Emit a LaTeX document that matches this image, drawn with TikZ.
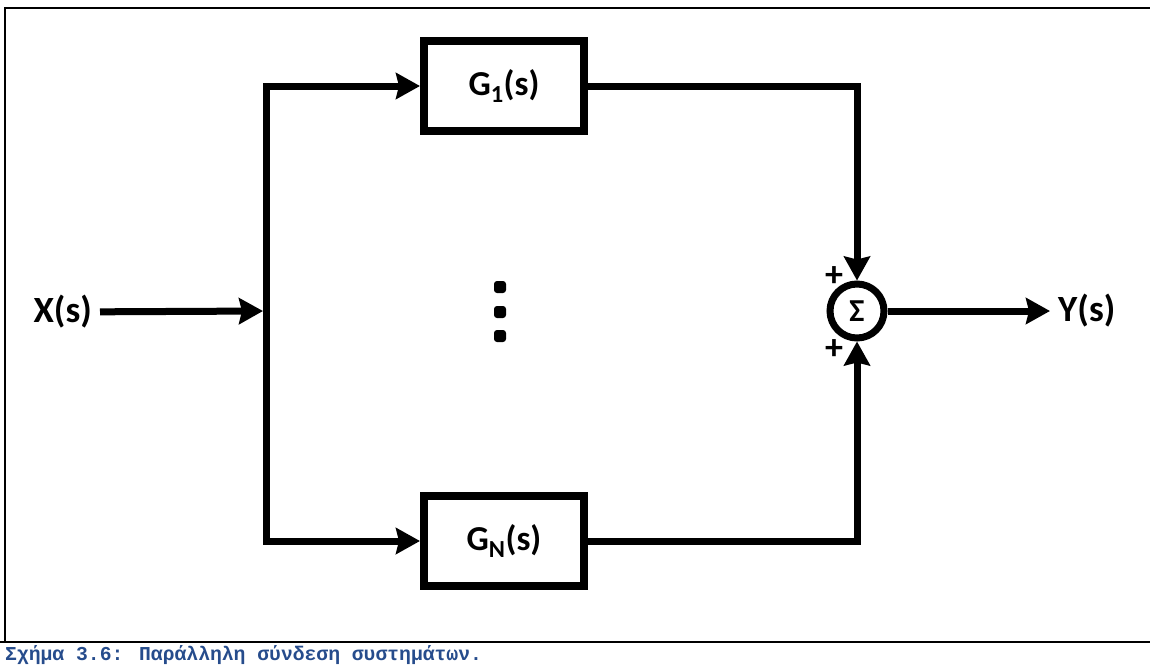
\documentclass[tikz,border=0pt]{standalone}
\usepackage{fontspec}
\newfontfamily\labelfont{Carlito}
\newfontfamily\capfont{Liberation Mono}
\usepackage{xcolor}
\usepackage{tikz}
\usetikzlibrary{arrows.meta,positioning}
\definecolor{captionblue}{RGB}{38,76,140}

\begin{document}
\begin{tikzpicture}[
    x=1pt, y=-1pt,
    block/.style={draw, line width=8pt, minimum width=160pt, minimum height=90pt, font=\labelfont\bfseries\fontsize{35}{40}\selectfont},
    sumnode/.style={draw, circle, line width=7pt, minimum size=54pt, inner sep=0pt, font=\labelfont\bfseries\fontsize{32}{36}\selectfont},
    signal/.style={inner sep=8pt, font=\labelfont\bfseries\fontsize{37}{44}\selectfont},
    sign/.style={inner sep=0pt, font=\labelfont\bfseries\fontsize{36}{40}\selectfont},
    dotmark/.style={fill, rounded corners=3pt, minimum size=12pt, inner sep=0pt},
    arrow/.style={-{Stealth[length=24pt, width=26pt, inset=3pt]}, line width=7pt},
    frame/.style={line width=2pt}
  ]
    \useasboundingbox (0,0) rectangle (1150,667);

    % frame and caption
    \draw[frame] (4,8) -- (1150,8);
    \draw[frame] (5,8) -- (5,642);
    \draw[frame] (0,642) -- (1150,642);
    \node[anchor=base west, inner sep=0pt, text=captionblue, font=\capfont\bfseries\fontsize{19.7}{23}\selectfont] (caption) at (5,660) {Σχήμα 3.6: Παράλληλη σύνδεση συστημάτων.};

    % blocks
    \node[block] (g1) at (504,86) {G\textsubscript{1}(s)};
    \node[block] (gn) at (504,541) {G\textsubscript{N}(s)};
    \node[sumnode] (sum) at (857,311) {Σ};
    \node[signal, anchor=east] (x) at (100,312) {X(s)};
    \node[signal, anchor=west] (y) at (1050,311) {Y(s)};
    \coordinate (split) at (266,311);
    \node[sign] (plus1) at (834,277) {+};
    \node[sign] (plus2) at (834,350) {+};
    \foreach \dy/\n in {287/1, 312/2, 336/3}
      \node[dotmark] (dot\n) at (500,\dy) {};

    \draw[arrow, shorten >=3pt] (x) -- (split);
    \draw[arrow] (split) |- (g1);
    \draw[arrow] (split) |- (gn);
    \draw[arrow] (g1) -| (sum);
    \draw[arrow] (gn) -| (sum);
    \draw[arrow] (sum) -- (y);
  \end{tikzpicture}
\end{document}
